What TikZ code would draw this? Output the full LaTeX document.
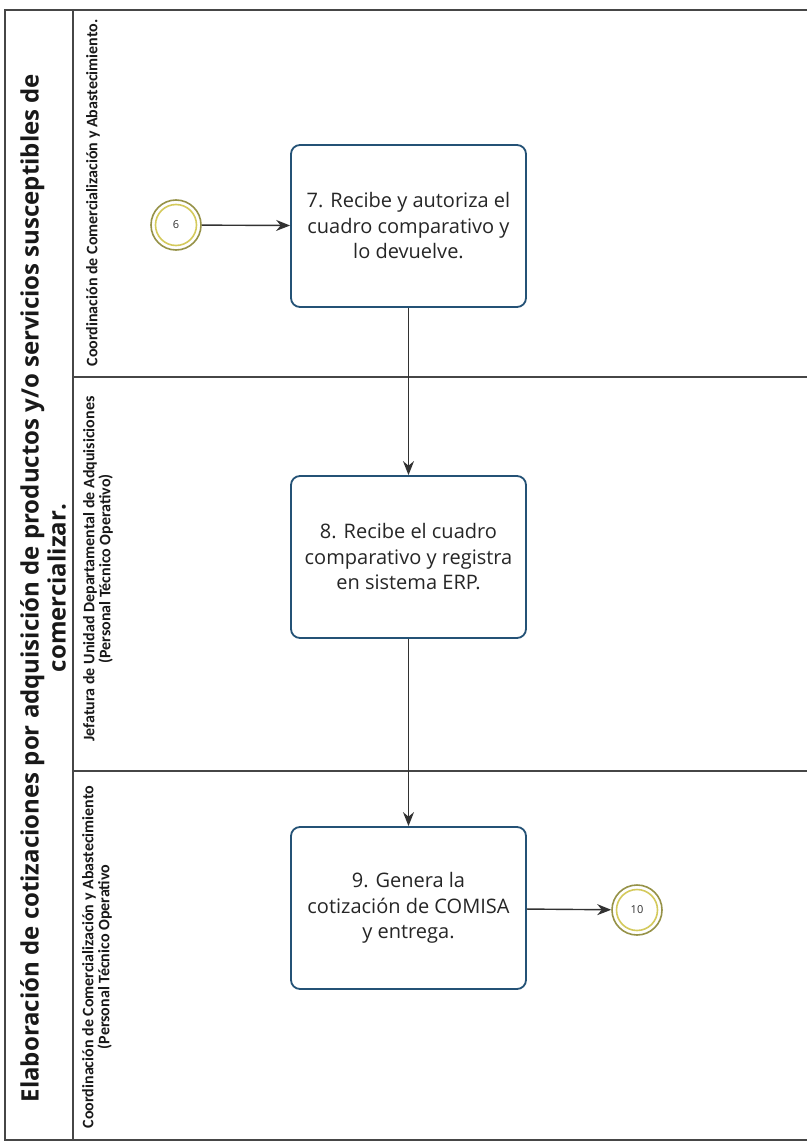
\documentclass[tikz,border=0pt]{standalone}
\usepackage{fontspec}
\setmainfont{Open Sans}
\newfontfamily\lanefont{Carlito}
\usetikzlibrary{arrows.meta}
\definecolor{frameline}{RGB}{70,70,70}
\definecolor{taskline}{RGB}{36,82,118}
\definecolor{eventline}{RGB}{150,146,72}
\definecolor{eventinner}{RGB}{212,202,92}
\definecolor{flowline}{RGB}{50,50,50}
\begin{document}
\begin{tikzpicture}[x=1pt,y=-1pt,
  frame/.style={draw=frameline,line width=1.1pt},
  task/.style={draw=taskline,line width=1.8pt,rounded corners=9pt,fill=white,
    minimum width=235pt,minimum height=162pt,inner sep=0pt,
    align=center,font=\fontsize{20}{25.5}\selectfont,text=black!85},
  event/.style={circle,draw=eventline,line width=1.6pt,fill=white,minimum size=50pt,
    inner sep=0pt,font=\fontsize{11}{12}\selectfont,text=black!80},
  flow/.style={draw=flowline,line width=1.4pt,-{Stealth[length=14pt,width=11pt]}},
  lanelabel/.style={rotate=90,align=center,font=\lanefont\bfseries\fontsize{16}{16}\selectfont,text=black!90},
  title/.style={rotate=90,align=center,font=\fontsize{24}{27}\selectfont\bfseries,text=black!90}]
\useasboundingbox (0,0) rectangle (807,1142);
\fill[white] (0,0) rectangle (807,1142);

% pool frame and lanes
\draw[frame] (807,10) -- (5,10) -- (5,1140) -- (807,1140);
\draw[frame] (73,10) -- (73,1140);
\draw[frame] (73,377) -- (807,377);
\draw[frame] (73,771) -- (807,771);

% pool title
\node[title] (pooltitle) at (43,588) {Elaboración de cotizaciones por adquisición de productos y/o servicios susceptibles de\\comercializar.};

% lane headers
\node[lanelabel] (lane1) at (93,193) {Coordinación de Comercialización y Abastecimiento.};
\node[lanelabel] (lane2) at (98,569) {Jefatura de Unidad Departamental de Adquisiciones\\(Personal Técnico Operativo)};
\node[lanelabel] (lane3) at (97,957) {Coordinación de Comercialización y Abastecimiento\\(Personal Técnico Operativo};

% tasks
\node[task] (t7) at (408.5,226) {7. Recibe y autoriza el\\cuadro comparativo y\\lo devuelve.};
\node[task] (t8) at (408.5,557) {8. Recibe el cuadro\\comparativo y registra\\en sistema ERP.};
\node[task] (t9) at (408.5,908) {9. Genera la\\cotización de COMISA\\y entrega.};

% link events: outer and inner ring
\node[event] (ev6) at (176,225) {6};
\draw[eventinner,line width=1.6pt] (ev6.center) circle (20.5pt);
\node[event] (ev10) at (637,910) {10};
\draw[eventinner,line width=1.6pt] (ev10.center) circle (20.5pt);

% sequence flows
\draw[flow] (ev6) -- (t7);
\draw[flow] (t7) -- (t8);
\draw[flow] (t8) -- (t9);
\draw[flow] (t9) -- (ev10);
\end{tikzpicture}
\end{document}
